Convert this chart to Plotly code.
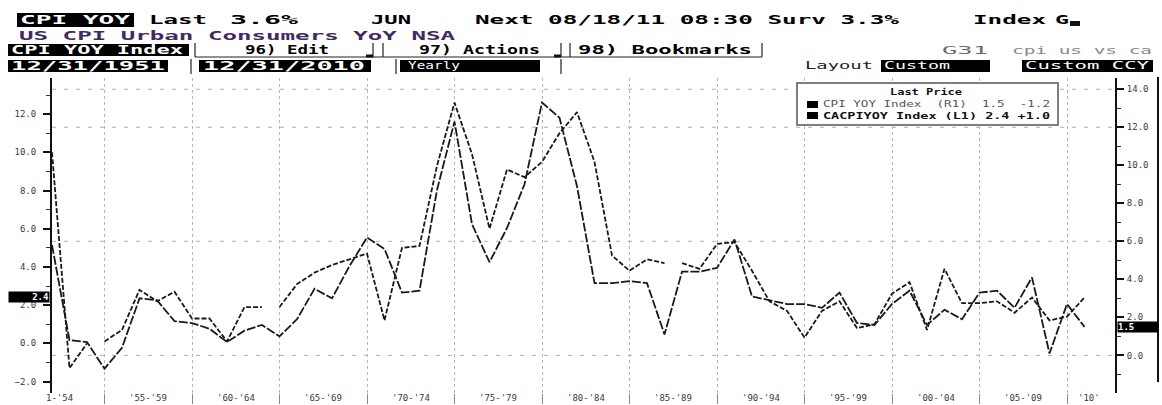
import json
import plotly.graph_objects as go

# ---------------- data (year-end, 12/31/1951 .. 12/31/2010) ----------------
YEARS = list(range(1951, 2011))
US_CPI_YOY = [5.8, 0.8, 0.7, -0.7, 0.4, 3.0, 2.9, 1.8, 1.7, 1.4,
              0.7, 1.3, 1.6, 1.0, 1.9, 3.5, 3.0, 4.7, 6.2, 5.6,
              3.3, 3.4, 8.7, 12.3, 6.9, 4.9, 6.7, 9.0, 13.3, 12.5,
              8.9, 3.8, 3.8, 3.9, 3.8, 1.1, 4.4, 4.4, 4.6, 6.1,
              3.1, 2.9, 2.7, 2.7, 2.5, 3.3, 1.7, 1.6, 2.7, 3.4,
              1.6, 2.4, 1.9, 3.3, 3.4, 2.5, 4.1, 0.1, 2.7, 1.5]
CA_CPI_YOY = [10.0, -1.3, 0.0, 0.1, 0.7, 2.8, 2.2, 2.7, 1.3, 1.3,
              0.1, 1.9, 1.9, 1.9, 3.1, 3.7, 4.1, 4.4, 4.7, 1.2,
              5.0, 5.1, 9.3, 12.6, 9.9, 6.0, 9.1, 8.7, 9.5, 11.0,
              12.1, 9.5, 4.6, 3.8, 4.4, 4.2, 4.2, 3.9, 5.2, 5.3,
              3.8, 2.2, 1.7, 0.3, 1.7, 2.2, 0.8, 1.0, 2.6, 3.2,
              0.7, 3.9, 2.1, 2.1, 2.2, 1.6, 2.4, 1.2, 1.4, 2.4]
CA_BREAKS = [1953, 1963, 1986]          # line not drawn from these years to the next
GRID_YEARS = list(range(1954, 2010, 5))
PERIOD_LABELS = ["1-'54", "'55-'59", "'60-'64", "'65-'69", "'70-'74", "'75-'79",
                 "'80-'84", "'85-'89", "'90-'94", "'95-'99", "'00-'04", "'05-'09", "'10'"]
RIGHT_GRID = [0, 6, 12, 14]
US_NAME = "CPI YOY Index"
CA_NAME = "CACPIYOY Index"

# ---------------- geometry ----------------
W, H = 1162, 405
ML, MR, MT, MB = 52, 47, 78, 12
PW, PH = W - ML - MR, H - MT - MB
PX_PER_YEAR = 17.5
X_RANGE = [YEARS[0], YEARS[0] + PW / PX_PER_YEAR]
YL_RANGE = [-2.60, 13.89]
YR_RANGE = [-1.98, 14.59]


def px(x):
    return (x - ML) / PW


def py(y):
    return (MT + PH - y) / PH


LABEL_POS = [GRID_YEARS[0] - 2.6] + [g + 2.5 for g in GRID_YEARS[:-1]] + [GRID_YEARS[-1] + 1.25]

# Canada series with breaks in the line
ca_x, ca_y = [], []
for yr, v in zip(YEARS, CA_CPI_YOY):
    ca_x.append(yr)
    ca_y.append(v)
    if yr in CA_BREAKS:
        ca_x.append(yr + 0.5)
        ca_y.append(None)

MONO = "DejaVu Sans Mono"

fig = go.Figure()
fig.add_trace(go.Scatter(x=ca_x, y=ca_y, yaxis="y", mode="lines",
                         line=dict(color="#1a1a1a", width=1.8, dash="5px,2px"),
                         connectgaps=False, name=CA_NAME, hoverinfo="skip"))
fig.add_trace(go.Scatter(x=YEARS, y=US_CPI_YOY, yaxis="y2", mode="lines",
                         line=dict(color="#1a1a1a", width=1.8, dash="9px,2px"),
                         name=US_NAME, hoverinfo="skip"))

tickfont = dict(family=MONO, size=9, color="#3a3a3a")
yaxis_common = dict(tickmode="linear", tick0=0, dtick=2, tickformat=".1f",
                    showgrid=False, zeroline=False, showline=True, linecolor="#111",
                    linewidth=2, ticks="outside", ticklen=7, tickwidth=2, tickcolor="#111",
                    tickfont=tickfont, automargin=False,
                    minor=dict(tick0=0, dtick=1, ticks="outside", ticklen=4,
                               tickwidth=1, tickcolor="#333"))

shapes = []
for v in RIGHT_GRID:
    shapes.append(dict(type="line", xref="paper", x0=0, x1=1, yref="y2", y0=v, y1=v,
                       line=dict(color="#b0b0b0", width=1, dash="4px,8px"), layer="below"))

BOXES = [(17, 134, 13, 27), (8, 189, 44, 56), (8, 168, 60, 72), (199, 371, 60, 72),
         (400, 540, 60, 72), (881, 990, 60, 72), (1022, 1153, 60, 72)]
for x0, x1, y0, y1 in BOXES:
    shapes.append(dict(type="rect", xref="paper", yref="paper", x0=px(x0), x1=px(x1),
                       y0=py(y1), y1=py(y0), fillcolor="#000", line=dict(width=0)))

SEPS = [(195, 43, 195, 57), (373, 43, 373, 57), (383, 43, 383, 57), (561, 43, 561, 57),
        (570, 43, 570, 57), (762, 43, 762, 57), (195, 57, 762, 57),
        (191, 59, 191, 74), (396, 59, 396, 74), (561, 59, 561, 74)]
for x0, y0, x1, y1 in SEPS:
    shapes.append(dict(type="line", xref="paper", yref="paper", x0=px(x0), x1=px(x1),
                       y0=py(y0), y1=py(y1), line=dict(color="#222", width=1.2)))
for x0, x1 in [(366, 373), (554, 561)]:
    shapes.append(dict(type="line", xref="paper", yref="paper", x0=px(x0), x1=px(x1),
                       y0=py(56), y1=py(56), line=dict(color="#111", width=3)))
shapes.append(dict(type="rect", xref="paper", yref="paper", x0=px(1070), x1=px(1080),
                   y0=py(26), y1=py(21), fillcolor="#111", line=dict(width=0)))
shapes.append(dict(type="line", xref="paper", yref="paper", x0=px(1158), x1=px(1158),
                   y0=py(77), y1=py(382), line=dict(color="#111", width=2)))
shapes.append(dict(type="rect", xref="paper", yref="paper", x0=px(797), x1=px(1058),
                   y0=py(125), y1=py(83), fillcolor="#fff", line=dict(color="#555", width=1.5)))
for y0, y1 in [(101, 108), (112, 119)]:
    shapes.append(dict(type="rect", xref="paper", yref="paper", x0=px(807), x1=px(818),
                       y0=py(y1), y1=py(y0), fillcolor="#000", line=dict(width=0)))

annotations = []
stretch = []


def label(text, x, y, size, color="#000", weight="bold", width=None):
    annotations.append(dict(text=text, xref="paper", yref="paper", x=px(x), y=py(y),
                            xanchor="left", yanchor="middle", align="left", showarrow=False,
                            borderpad=0, borderwidth=0,
                            font=dict(family=MONO, size=size, color=color, weight=weight)))
    stretch.append(width)


WHITE = "#fff"
label("CPI YOY", 20, 20, 13, WHITE, width=110)
label("Last", 149, 20, 13, width=58)
label("3.6%", 230, 20, 13, width=68)
label("JUN", 371, 20, 13, width=40)
label("Next 08/18/11 08:30 Surv 3.3%", 475, 20, 13, width=424)
label("Index", 973, 20, 13, width=73)
label("G", 1055, 20, 13, width=14)
label("US CPI Urban Consumers YoY NSA", 19, 35, 13, "#402a66", width=436)
label("CPI YOY Index", 11, 50, 12, WHITE, width=172)
label("96) Edit", 245, 50, 12, width=84)
label("97) Actions", 419, 50, 12, width=121)
label("98) Bookmarks", 578, 50, 12, width=174)
label("G31", 942, 50, 11, "#6a6a6a", weight="normal", width=46)
label("cpi us vs ca", 1012, 50, 10, "#8a8a8a", weight="normal", width=140)
label("12/31/1951", 11, 66, 12, WHITE, width=154)
label("12/31/2010", 203, 66, 12, WHITE, width=162)
label("Yearly", 408, 66, 10, WHITE, weight="normal", width=52)
label("Layout", 805, 66, 11, "#222", weight="normal", width=68)
label("Custom", 884, 66, 11, WHITE, weight="normal", width=66)
label("Custom CCY", 1025, 66, 11, WHITE, weight="normal", width=124)
us_last, us_chg = US_CPI_YOY[-1], US_CPI_YOY[-1] - US_CPI_YOY[-2]
ca_last, ca_chg = CA_CPI_YOY[-1], CA_CPI_YOY[-1] - CA_CPI_YOY[-2]
label("Last Price", 890, 92, 9, "#111", width=72)
label(f"{US_NAME}  (R1)  {us_last:.1f}  {us_chg:+.1f}", 823, 104, 9, "#555", weight="normal", width=227)
label(f"{CA_NAME} (L1) {ca_last:.1f} {ca_chg:+.1f}", 823, 115.5, 9, "#111", width=227)

for pos, txt in zip(LABEL_POS, PERIOD_LABELS):
    annotations.append(dict(text=txt, xref="x", yref="paper", x=pos, y=py(398),
                            xanchor="center", yanchor="middle", showarrow=False,
                            borderpad=0, font=tickfont))
    stretch.append(None)

annotations.append(dict(text=f"{ca_last:.1f}", xref="paper", yref="y", x=px(50), y=ca_last,
                        xanchor="right", yanchor="middle", showarrow=False, bgcolor="#000",
                        width=40, height=10, align="right", borderpad=0,
                        font=dict(family=MONO, size=9, color=WHITE, weight="bold")))
stretch.append(None)
annotations.append(dict(text=f"{us_last:.1f}", xref="paper", yref="y2", x=px(1117), y=us_last,
                        xanchor="left", yanchor="middle", showarrow=False, bgcolor="#000",
                        width=40, height=10, align="left", borderpad=0,
                        font=dict(family=MONO, size=9, color=WHITE, weight="bold")))
stretch.append(None)

fig.update_layout(
    template="none",
    width=W, height=H,
    margin=dict(l=ML, r=MR, t=MT, b=MB, pad=0),
    paper_bgcolor="#fff", plot_bgcolor="#fff",
    showlegend=False,
    xaxis=dict(range=X_RANGE, showgrid=False, zeroline=False, showline=False,
               tickmode="array", tickvals=GRID_YEARS, ticktext=[""] * len(GRID_YEARS),
               ticks="outside", ticklen=10, tickcolor="#8a8a8a", tickwidth=1,
               automargin=False,
               minor=dict(tickmode="array", tickvals=GRID_YEARS, ticks="", showgrid=True,
                          gridcolor="#b5b5b5", griddash="dot", gridwidth=1)),
    yaxis=dict(range=YL_RANGE, side="left", ticklabelstandoff=5, **yaxis_common),
    yaxis2=dict(range=YR_RANGE, side="right", overlaying="y", anchor="x",
                ticklabelstandoff=1, **yaxis_common),
    shapes=shapes,
    annotations=annotations,
)

POST = """
document.body.style.margin = '0';
document.body.style.overflow = 'hidden';
var gd = document.getElementById('{plot_id}');
var W = %s;
gd.querySelectorAll('g.annotation').forEach(function(g){
  var i = parseInt(g.getAttribute('data-index'));
  var w = W[i];
  if (w) {
    var t = g.querySelector('text.annotation-text');
    if (t) { t.setAttribute('textLength', w); t.setAttribute('lengthAdjust', 'spacingAndGlyphs'); }
  }
});
""" % json.dumps(stretch)

fig.write_html("out.html", post_script=POST, config={"displayModeBar": False})
